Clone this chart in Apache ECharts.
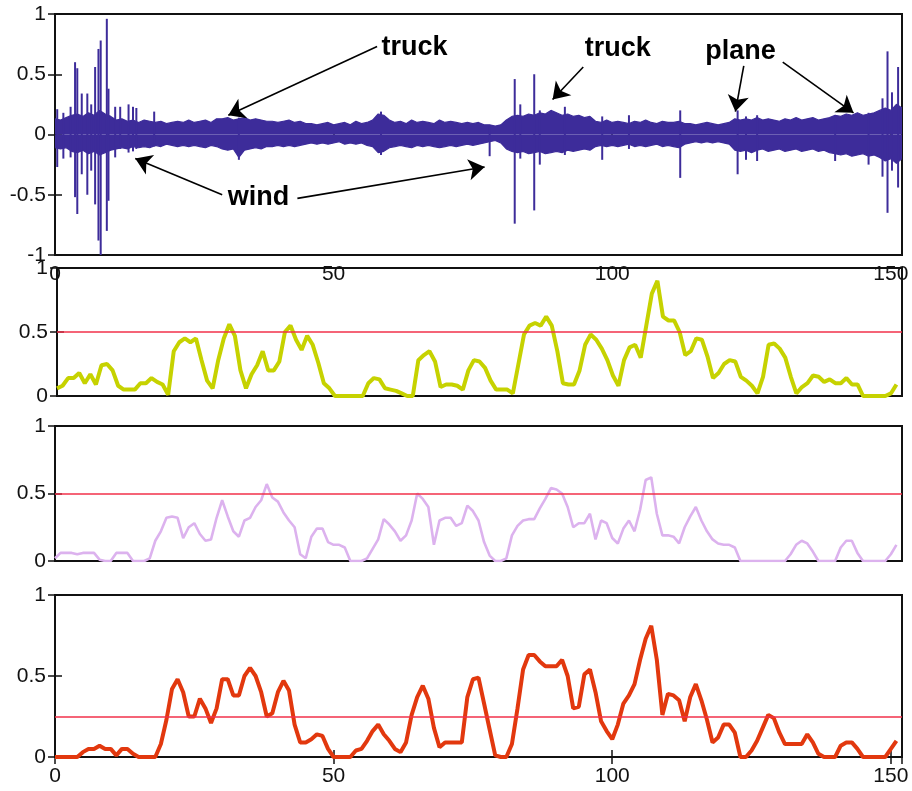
<!DOCTYPE html>
<html>
<head>
<meta charset="utf-8">
<script src="https://cdn.jsdelivr.net/npm/echarts@6/dist/echarts.min.js"></script>
<style>
  html, body { margin: 0; padding: 0; background: #fff; }
  #chart { width: 912px; height: 791px; }
</style>
</head>
<body>
<div id="chart"></div>
<script>
// ---- acoustic signal: envelope of the dense waveform (one value per time unit) ----
const sigUpper = [
  0.13,0.12,0.14,0.16,0.17,0.15,0.18,0.16,0.20,0.17,
  0.15,0.12,0.13,0.11,0.12,0.10,0.12,0.11,0.10,0.11,
  0.09,0.10,0.11,0.10,0.12,0.10,0.11,0.12,0.10,0.13,
  0.13,0.14,0.12,0.13,0.14,0.12,0.13,0.12,0.11,0.11,
  0.10,0.11,0.12,0.10,0.11,0.09,0.09,0.08,0.09,0.10,
  0.08,0.09,0.10,0.08,0.11,0.09,0.10,0.12,0.17,0.16,
  0.12,0.10,0.11,0.09,0.12,0.10,0.11,0.10,0.09,0.12,
  0.10,0.11,0.10,0.09,0.10,0.09,0.10,0.08,0.08,0.07,
  0.08,0.12,0.15,0.16,0.15,0.17,0.16,0.18,0.17,0.20,
  0.18,0.16,0.17,0.15,0.16,0.14,0.15,0.11,0.10,0.12,
  0.10,0.11,0.10,0.09,0.11,0.10,0.12,0.10,0.09,0.11,
  0.10,0.10,0.11,0.09,0.09,0.08,0.09,0.10,0.09,0.08,
  0.09,0.10,0.13,0.12,0.13,0.12,0.14,0.12,0.13,0.12,
  0.11,0.13,0.12,0.14,0.12,0.13,0.14,0.12,0.13,0.14,
  0.16,0.15,0.17,0.16,0.18,0.16,0.17,0.18,0.20,0.22,
  0.20,0.25,0.22
];
const sigLower = [
  -0.11,-0.12,-0.11,-0.14,-0.15,-0.13,-0.16,-0.14,-0.17,-0.15,
  -0.13,-0.12,-0.11,-0.12,-0.10,-0.11,-0.10,-0.11,-0.09,-0.10,
  -0.08,-0.09,-0.10,-0.09,-0.10,-0.09,-0.10,-0.11,-0.09,-0.10,
  -0.12,-0.13,-0.12,-0.19,-0.13,-0.12,-0.11,-0.12,-0.10,-0.10,
  -0.09,-0.10,-0.09,-0.10,-0.09,-0.08,-0.07,-0.08,-0.07,-0.08,
  -0.07,-0.06,-0.08,-0.07,-0.08,-0.07,-0.09,-0.10,-0.15,-0.14,
  -0.11,-0.10,-0.09,-0.10,-0.11,-0.09,-0.10,-0.09,-0.10,-0.11,
  -0.10,-0.09,-0.10,-0.09,-0.08,-0.09,-0.08,-0.07,-0.06,-0.05,
  -0.07,-0.12,-0.14,-0.15,-0.14,-0.16,-0.15,-0.14,-0.16,-0.15,
  -0.14,-0.15,-0.13,-0.14,-0.13,-0.12,-0.13,-0.10,-0.09,-0.10,
  -0.09,-0.10,-0.09,-0.08,-0.10,-0.09,-0.10,-0.09,-0.08,-0.10,
  -0.09,-0.10,-0.11,-0.08,-0.07,-0.06,-0.07,-0.06,-0.07,-0.06,
  -0.07,-0.08,-0.13,-0.14,-0.13,-0.15,-0.13,-0.12,-0.14,-0.13,
  -0.12,-0.14,-0.13,-0.12,-0.14,-0.13,-0.12,-0.14,-0.13,-0.15,
  -0.16,-0.17,-0.16,-0.18,-0.17,-0.16,-0.18,-0.17,-0.19,-0.22,
  -0.20,-0.24,-0.20
];
// isolated transients: [time, peak, trough]
const sigSpikes = [
  [0.4,0.21,-0.27],[1.5,0.18,-0.20],[2.8,0.23,-0.19],[3.6,0.60,-0.52],[4.0,0.55,-0.66],
  [4.8,0.34,-0.33],[5.8,0.34,-0.50],[6.5,0.25,-0.30],[7.2,0.56,-0.58],[7.8,0.71,-0.88],
  [8.2,0.78,-1.00],[9.3,0.96,-0.80],[9.6,0.38,-0.55],[10.8,0.23,-0.19],[11.7,0.23,-0.12],
  [13.2,0.25,-0.15],[14.0,0.23,-0.14],[14.6,0.22,-0.12],[17.8,0.19,-0.10],[33.0,0.14,-0.21],
  [58.5,0.19,-0.17],[78.0,0.07,-0.18],[82.5,0.46,-0.74],[83.5,0.25,-0.20],[86.0,0.50,-0.63],
  [87.0,0.20,-0.25],[91.5,0.23,-0.17],[98.2,0.15,-0.21],[103.0,0.16,-0.12],[112.2,0.20,-0.36],
  [122.5,0.20,-0.33],[124.0,0.15,-0.21],[126.0,0.16,-0.22],[140.0,0.15,-0.22],[146.0,0.18,-0.25],
  [148.5,0.30,-0.35],[149.4,0.69,-0.65],[150.2,0.35,-0.30],[151.3,0.56,-0.44]
];

// ---- detector outputs (one value per time unit) ----
const detYellow = [
  0.06,0.08,0.14,0.14,0.18,0.10,0.17,0.09,0.24,0.25,
  0.20,0.08,0.05,0.05,0.05,0.10,0.10,0.14,0.11,0.09,
  0.01,0.35,0.42,0.45,0.42,0.45,0.28,0.12,0.06,0.28,
  0.45,0.56,0.47,0.20,0.06,0.17,0.24,0.35,0.20,0.20,
  0.27,0.50,0.55,0.44,0.36,0.47,0.40,0.26,0.10,0.06,
  0,0,0,0,0,0,0.10,0.14,0.13,0.06,
  0.05,0.04,0.02,0,0,0.28,0.32,0.35,0.27,0.07,
  0.09,0.09,0.08,0.05,0.20,0.28,0.27,0.22,0.12,0.05,
  0.05,0.05,0.02,0.25,0.48,0.55,0.57,0.55,0.62,0.55,
  0.35,0.10,0.09,0.09,0.20,0.40,0.48,0.44,0.37,0.28,
  0.16,0.08,0.28,0.38,0.40,0.30,0.55,0.80,0.90,0.62,
  0.59,0.59,0.50,0.32,0.35,0.45,0.44,0.31,0.14,0.18,
  0.25,0.28,0.27,0.15,0.12,0.08,0.02,0.15,0.40,0.41,
  0.37,0.30,0.15,0.02,0.07,0.10,0.16,0.15,0.11,0.13,
  0.10,0.10,0.14,0.09,0.09,0,0,0,0,0,
  0.02,0.09
];
const detViolet = [
  0.02,0.06,0.06,0.06,0.05,0.06,0.06,0.06,0.01,0,
  0,0.06,0.06,0.06,0,0,0,0.02,0.15,0.22,
  0.32,0.33,0.32,0.17,0.25,0.28,0.20,0.15,0.16,0.32,
  0.45,0.33,0.22,0.18,0.30,0.32,0.40,0.45,0.57,0.47,
  0.44,0.36,0.30,0.25,0.05,0.02,0.18,0.24,0.24,0.14,
  0.12,0.12,0.10,0,0,0,0.02,0.09,0.16,0.31,
  0.27,0.22,0.15,0.19,0.30,0.50,0.46,0.40,0.12,0.30,
  0.32,0.32,0.26,0.28,0.41,0.37,0.30,0.14,0.04,0,
  0,0.02,0.19,0.26,0.30,0.31,0.31,0.39,0.46,0.54,
  0.53,0.50,0.40,0.25,0.28,0.28,0.35,0.16,0.30,0.28,
  0.17,0.13,0.24,0.30,0.22,0.38,0.60,0.62,0.35,0.19,
  0.19,0.18,0.13,0.25,0.33,0.40,0.30,0.22,0.16,0.13,
  0.12,0.12,0.10,0,0,0,0,0,0,0,
  0,0,0.05,0.12,0.15,0.13,0.07,0,0,0,
  0,0.10,0.15,0.15,0.06,0,0,0,0,0,
  0.05,0.12
];
const detRed = [
  0,0,0,0,0,0.03,0.05,0.05,0.07,0.05,
  0.05,0.01,0.05,0.05,0.02,0,0,0,0,0.08,
  0.23,0.42,0.48,0.40,0.25,0.25,0.36,0.30,0.21,0.30,
  0.48,0.48,0.38,0.38,0.50,0.55,0.50,0.40,0.25,0.27,
  0.40,0.47,0.41,0.20,0.09,0.09,0.11,0.14,0.13,0.05,
  0,0,0,0,0.04,0.05,0.10,0.16,0.20,0.14,
  0.10,0.05,0.03,0.09,0.26,0.37,0.44,0.36,0.18,0.06,
  0.09,0.09,0.09,0.09,0.37,0.48,0.49,0.33,0.17,0.01,
  0,0,0.08,0.30,0.54,0.63,0.63,0.59,0.56,0.56,
  0.56,0.60,0.50,0.30,0.31,0.51,0.54,0.40,0.22,0.16,
  0.11,0.20,0.33,0.38,0.45,0.60,0.73,0.81,0.60,0.26,
  0.39,0.38,0.35,0.22,0.37,0.45,0.35,0.23,0.09,0.12,
  0.20,0.20,0.15,0,0,0.04,0.10,0.18,0.26,0.24,
  0.15,0.08,0.08,0.08,0.08,0.14,0.09,0.02,0,0,
  0,0.07,0.09,0.09,0.05,0,0,0,0,0,
  0.05,0.10
];
// detection thresholds per detector
const thresholds = [0.5, 0.5, 0.25];

// axis ranges and tick steps
const timeMax = 152;
const timeStep = 50;
const sigRange = [-1, 1];
const detRange = [0, 1];
const valStep = 0.5;

// annotations: label text at a point, arrows [from, to] in data units
const noteLabels = [
  { name: 'truck', coord: [64.5, 0.72] },
  { name: 'wind',  coord: [36.5, -0.52] },
  { name: 'truck', coord: [101.0, 0.71] },
  { name: 'plane', coord: [123.0, 0.69] }
];
const noteArrows = [
  [[57.8, 0.73], [31.1, 0.16]],
  [[30.0, -0.50], [14.4, -0.20]],
  [[43.5, -0.53], [77.1, -0.27]],
  [[94.8, 0.56], [89.3, 0.29]],
  [[123.6, 0.57], [122.1, 0.19]],
  [[130.6, 0.60], [143.3, 0.18]]
];

// ---------------------------------------------------------------------------
const FONT = '"Liberation Sans", Arial, Helvetica, sans-serif';
const SIG_COLOR = '#3d2c9a';
const THR_COLOR = '#f2304a';

const panels = [
  { left: 55, top: 14,  width: 847, height: 241, range: sigRange, xLabels: true,  xTicks: true },
  { left: 57, top: 268, width: 845, height: 128, range: detRange, xLabels: false, xTicks: false },
  { left: 55, top: 426, width: 847, height: 135, range: detRange, xLabels: false, xTicks: false },
  { left: 55, top: 595, width: 847, height: 162, range: detRange, xLabels: true,  xTicks: true }
];

const grid = [], xAxis = [], yAxis = [];
panels.forEach((p, i) => {
  grid.push({ left: p.left, top: p.top, width: p.width, height: p.height,
              show: true, borderColor: '#111', borderWidth: 2, backgroundColor: 'transparent' });
  const xBase = { type: 'value', gridIndex: i, min: 0, max: timeMax, interval: timeStep,
                  splitLine: { show: false }, axisLine: { show: false } };
  xAxis.push(Object.assign({}, xBase, {
    position: 'bottom',
    axisTick: { show: p.xTicks, inside: true, length: 7, lineStyle: { color: '#111', width: 1.5 } },
    axisLabel: { show: p.xLabels, margin: 9, fontSize: 21, fontFamily: FONT, color: '#111' }
  }));
  xAxis.push(Object.assign({}, xBase, {
    position: 'top',
    axisTick: { show: p.xTicks, inside: true, length: 7, lineStyle: { color: '#111', width: 1.5 } },
    axisLabel: { show: false }
  }));
  const yBase = { type: 'value', gridIndex: i, min: p.range[0], max: p.range[1], interval: valStep,
                  splitLine: { show: false }, axisLine: { show: false } };
  yAxis.push(Object.assign({}, yBase, {
    position: 'left',
    axisTick: { show: true, inside: true, length: 7, lineStyle: { color: '#111', width: 1.5 } },
    axisLabel: { show: true, margin: 9, fontSize: 21, fontFamily: FONT, color: '#111' }
  }));
  yAxis.push(Object.assign({}, yBase, {
    position: 'right',
    axisTick: { show: true, inside: true, length: 7, lineStyle: { color: '#111', width: 1.5 } },
    axisLabel: { show: false }
  }));
});

const idx = (arr) => arr.map((v, i) => [i, v]);

function thresholdLine(v) {
  return {
    silent: true, symbol: 'none', label: { show: false },
    lineStyle: { color: THR_COLOR, width: 1.6, type: 'solid' },
    data: [{ yAxis: v }]
  };
}

const series = [
  // upper half of the signal envelope
  { type: 'line', xAxisIndex: 0, yAxisIndex: 0, data: idx(sigUpper), symbol: 'none',
    lineStyle: { color: SIG_COLOR, width: 1.2 }, areaStyle: { color: SIG_COLOR, opacity: 1 }, z: 3,
    markLine: {
      silent: true, symbol: ['none', 'arrow'], symbolSize: 16, symbolOffset: 0,
      label: { show: false },
      lineStyle: { color: '#000', width: 1.6, type: 'solid' },
      itemStyle: { color: '#000' },
      data: noteArrows.map(a => [{ coord: a[0] }, { coord: a[1] }])
    },
    markPoint: {
      silent: true, symbol: 'circle', symbolSize: 0,
      label: { show: true, position: 'inside', formatter: (p) => p.name, color: '#000',
               fontFamily: FONT, fontWeight: 'bold', fontSize: 27 },
      data: noteLabels.map(n => ({ name: n.name, coord: n.coord }))
    }
  },
  // lower half of the signal envelope
  { type: 'line', xAxisIndex: 0, yAxisIndex: 0, data: idx(sigLower), symbol: 'none',
    lineStyle: { color: SIG_COLOR, width: 1.2 }, areaStyle: { color: SIG_COLOR, opacity: 1 }, z: 3 },
  // transients as vertical strokes
  { type: 'custom', xAxisIndex: 0, yAxisIndex: 0, data: sigSpikes, z: 4,
    encode: { x: 0, y: [1, 2] },
    renderItem: (params, api) => {
      const a = api.coord([api.value(0), api.value(1)]);
      const b = api.coord([api.value(0), api.value(2)]);
      return { type: 'line', shape: { x1: a[0], y1: a[1], x2: b[0], y2: b[1] },
               style: { stroke: SIG_COLOR, lineWidth: 2 } };
    }
  },
  // detectors
  { type: 'line', xAxisIndex: 2, yAxisIndex: 2, data: idx(detYellow), symbol: 'none',
    lineStyle: { color: '#c6d200', width: 4 }, z: 3, markLine: thresholdLine(thresholds[0]) },
  { type: 'line', xAxisIndex: 4, yAxisIndex: 4, data: idx(detViolet), symbol: 'none',
    lineStyle: { color: '#dcb2ee', width: 2.6 }, z: 3, markLine: thresholdLine(thresholds[1]) },
  { type: 'line', xAxisIndex: 6, yAxisIndex: 6, data: idx(detRed), symbol: 'none',
    lineStyle: { color: '#e2380e', width: 4 }, z: 3, markLine: thresholdLine(thresholds[2]) }
];

const chart = echarts.init(document.getElementById('chart'), null, { renderer: 'canvas' });
chart.setOption({
  animation: false,
  backgroundColor: '#fff',
  grid, xAxis, yAxis, series
});
</script>
</body>
</html>
